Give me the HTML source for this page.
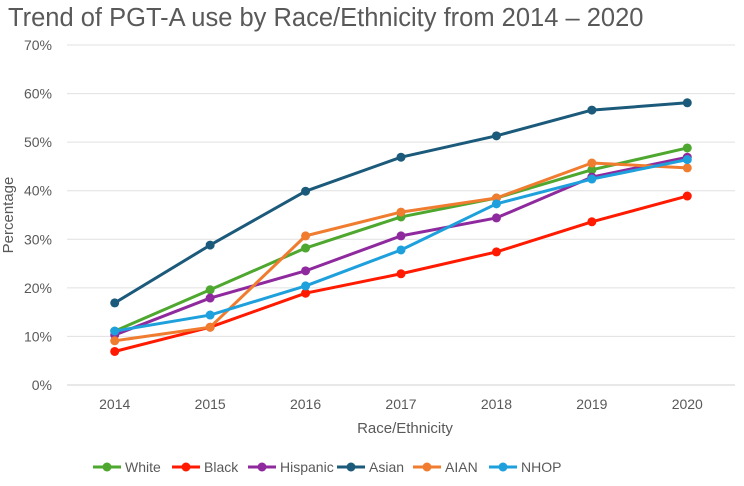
<!DOCTYPE html>
<html><head><meta charset="utf-8"><style>
body{margin:0;background:#fff;font-family:"Liberation Sans",sans-serif;}
svg text{font-family:"Liberation Sans",sans-serif;}
</style></head><body>
<svg id="chart" width="744" height="481" viewBox="0 0 744 481">
<text x="8" y="26" font-size="25.5" fill="#595959">Trend of PGT-A use by Race/Ethnicity from 2014 – 2020</text>
<g id="grid"></g><g id="yticks"></g><g id="xticks"></g><g id="series"></g><g id="legend"></g>
<text x="405" y="433" font-size="15" fill="#595959" text-anchor="middle">Race/Ethnicity</text>
<text transform="translate(13,215) rotate(-90)" font-size="15" fill="#595959" text-anchor="middle">Percentage</text>
</svg>
<script>
const categories=["2014","2015","2016","2017","2018","2019","2020"];
const yTicks=[0,10,20,30,40,50,60,70];
const seriesNames=["White","Black","Hispanic","Asian","AIAN","NHOP"];
const seriesColors=["#4ea72e","#ff1a00","#8f2a9e","#1b5a7a","#f07c30","#1ea0dc"];
const white=[11.1,19.6,28.2,34.6,38.5,44.3,48.8];
const black=[6.9,11.9,18.9,22.9,27.4,33.6,38.9];
const hispanic=[10.3,17.9,23.5,30.7,34.4,42.8,46.9];
const asian=[16.9,28.8,39.9,46.9,51.3,56.6,58.1];
const aian=[9.1,11.9,30.7,35.6,38.5,45.7,44.7];
const nhop=[11.1,14.4,20.4,27.8,37.3,42.4,46.4];
const seriesValues=[white,black,hispanic,asian,aian,nhop];
const NS="http://www.w3.org/2000/svg";
const x0=67,x1=735,y0=385,y1=45;
const xs=i=>x0+(x1-x0)/categories.length*(i+0.5);
const ys=v=>y0-(y0-y1)*v/70;
function mk(tag,attrs,parent){const e=document.createElementNS(NS,tag);for(const k in attrs)e.setAttribute(k,attrs[k]);document.getElementById(parent).appendChild(e);return e;}
yTicks.forEach(t=>{
 const l=mk('line',{x1:x0,x2:x1,y1:ys(t),y2:ys(t),stroke:t===0?'#d0d0d0':'#e0e0e0','stroke-width':1},'grid');
 
 
 const tx=mk('text',{x:52,y:ys(t)+5,'font-size':14,fill:'#595959','text-anchor':'end'},'yticks');
 tx.textContent=t+'%';
 
 
});
categories.forEach((c,i)=>{
 const tx=mk('text',{x:xs(i),y:409,'font-size':14,fill:'#595959','text-anchor':'middle'},'xticks');
 tx.textContent=c;
 
 
});
seriesValues.forEach((vals,s)=>{
 const p=mk('polyline',{points:vals.map((v,i)=>xs(i)+','+ys(v)).join(' '),fill:'none',stroke:seriesColors[s],'stroke-width':3,'stroke-linejoin':'round'},'series');
 
 
 vals.forEach((v,i)=>{
  const c=mk('circle',{cx:xs(i),cy:ys(v),r:4.5,fill:seriesColors[s]},'series');
  
  
 });
});
const legX=[93,172,248,337,413,489];
seriesNames.forEach((n,s)=>{
 const lx=legX[s];
 const l=mk('line',{x1:lx,x2:lx+28,y1:467,y2:467,stroke:seriesColors[s],'stroke-width':3},'legend');
 
 
 const c=mk('circle',{cx:lx+14,cy:467,r:4.5,fill:seriesColors[s]},'legend');
 
 
 const t=mk('text',{x:lx+32,y:472,'font-size':14,fill:'#595959'},'legend');
 t.textContent=n;
 
 
});
</script>
</body></html>
